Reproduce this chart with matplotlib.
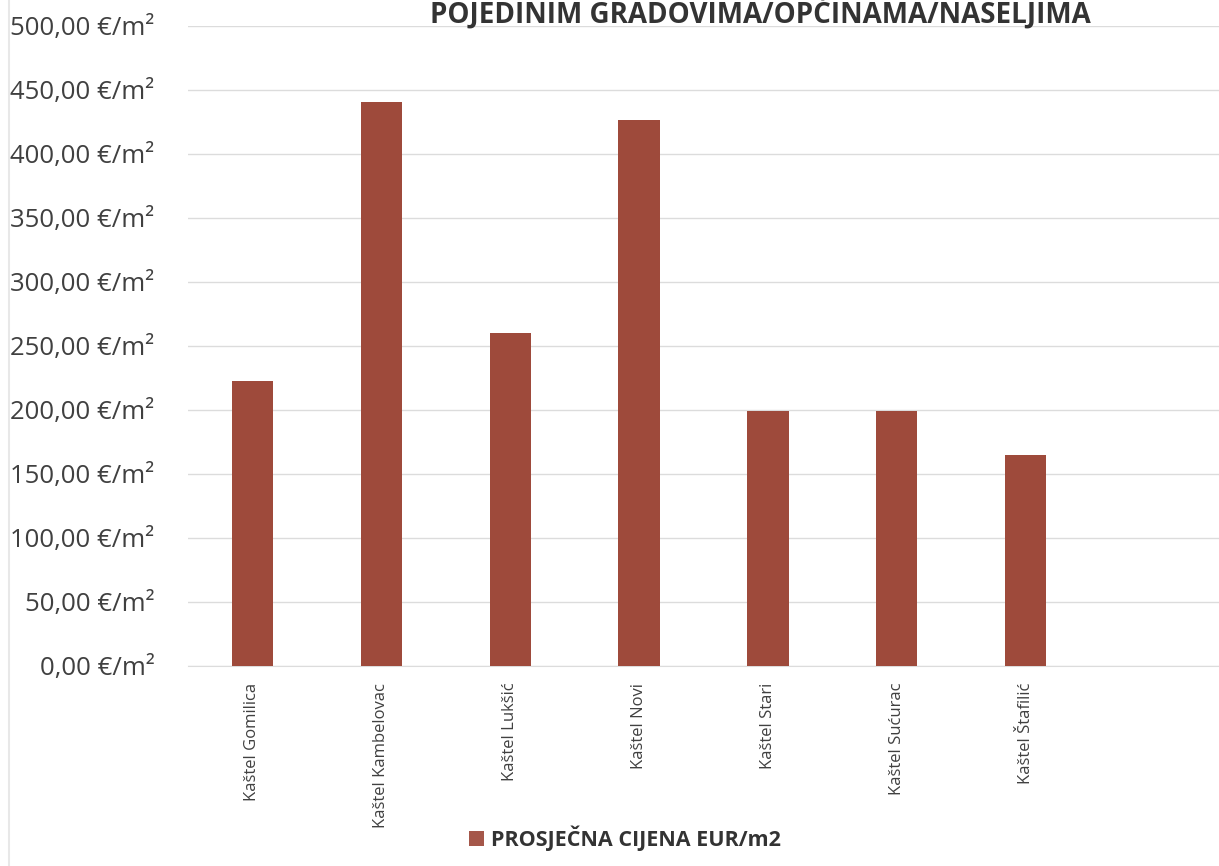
import matplotlib
matplotlib.use("Agg")
import matplotlib.pyplot as plt
from matplotlib.patches import Patch
from matplotlib.ticker import FixedLocator
from matplotlib.lines import Line2D

categories = ["Kaštel Gomilica", "Kaštel Kambelovac", "Kaštel Lukšić", "Kaštel Novi",
              "Kaštel Stari", "Kaštel Sućurac", "Kaštel Štafilić", ""]
values = [222.5, 441.0, 260.0, 426.5, 199.0, 199.5, 164.5, 0]
yticks = [0, 50, 100, 150, 200, 250, 300, 350, 400, 450, 500]
ytick_labels = [f"{v:.2f}".replace(".", ",") + " €/m²" for v in yticks]
title = "POJEDINIM GRADOVIMA/OPĆINAMA/NASELJIMA"
legend_label = "PROSJEČNA CIJENA EUR/m2"

bar_color = "#9E4A3B"
text_color = "#404040"
grid_color = "#dcdcdc"

plt.rcParams['font.family'] = ['Open Sans', 'DejaVu Sans']

fig = plt.figure(figsize=(12.19, 8.66), dpi=100)
ax = fig.add_axes([188/1219, 200/866, 1 - 188/1219, 640/866])

x = list(range(len(categories)))
ax.bar(x[:7], values[:7], width=0.32, color=bar_color, zorder=3)
ax.set_xlim(-0.5, 7.5)
ax.set_ylim(0, 500)
ax.yaxis.set_major_locator(FixedLocator(yticks))
ax.set_yticklabels(ytick_labels, fontsize=18.5, color=text_color)
ax.set_xticks(x)
ax.set_xticklabels(categories, rotation=90, fontsize=12, color=text_color, va='top')
ax.tick_params(axis='y', length=0, pad=24)
ax.tick_params(axis='x', length=0, pad=12)
ax.grid(axis='y', color=grid_color, linewidth=1, zorder=0)
for s in ["top", "right", "left"]:
    ax.spines[s].set_visible(False)
ax.spines["bottom"].set_color(grid_color)

# faint scan edge on the left
fig.add_artist(Line2D([9/1219, 9/1219], [0, 1], color="#e8e8e8", linewidth=1.5))

fig.text(760/1219, 1 - 23/866, title, ha='center', va='baseline',
         fontsize=20, fontweight='bold', color='#333333')

leg = fig.legend(handles=[Patch(facecolor="#A5574A", label=legend_label)],
                 loc='center', bbox_to_anchor=(625/1219, 1 - 838/866), frameon=False,
                 handlelength=0.7, handleheight=0.7, handletextpad=0.3,
                 prop={'size': 15.5, 'weight': 'bold'})
for t in leg.get_texts():
    t.set_color('#333333')

fig.savefig("out.png", dpi=100, facecolor='white')
